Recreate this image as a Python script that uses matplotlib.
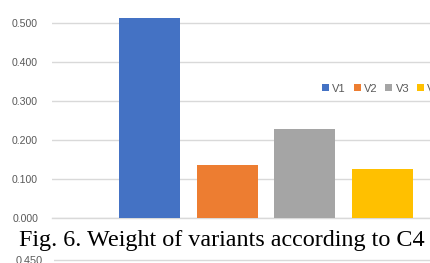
import matplotlib
matplotlib.use("Agg")
import matplotlib.pyplot as plt
from matplotlib.patches import Patch
import numpy as np

# Data
series = ["V1", "V2", "V3", "V4"]
values = [0.514, 0.137, 0.228, 0.126]
colors = ["#4472C4", "#ED7D31", "#A5A5A5", "#FFC000"]
yticks_top = [0.0, 0.1, 0.2, 0.3, 0.4, 0.5]
yticks_bottom = [0.45]
caption = "Fig. 6. Weight of variants according to C4"

W, H = 431, 263
fig = plt.figure(figsize=(W / 100, H / 100), dpi=100)

label_color = "#595959"
grid_color = "#D9D9D9"
tick_font = dict(family="Liberation Sans", size=7.6)

# Top chart
x0 = 52
ax = fig.add_axes([x0 / W, 1 - 218.3 / H, 1 - x0 / W, 218.3 / H])
xpos = np.arange(len(series))
ax.bar(xpos, values, width=0.785, color=colors, zorder=3)
ax.set_xlim(-1.25, -1.25 + (W - x0) / 77.8)
ax.set_ylim(0, 218.3 / 390)
ax.set_yticks(yticks_top)
ax.set_yticklabels([f"{v:.3f}" for v in yticks_top], color=label_color, **tick_font)
ax.set_xticks([])
ax.tick_params(axis="y", length=0, pad=10)
ax.grid(axis="y", color=grid_color, linewidth=1.0, zorder=0)
for s in ["top", "right", "left"]:
    ax.spines[s].set_visible(False)
ax.spines["bottom"].set_color(grid_color)
ax.spines["bottom"].set_linewidth(1.0)

handles = [Patch(facecolor=c, edgecolor="none", label=s) for s, c in zip(series, colors)]
leg = fig.legend(handles=handles, loc="center left",
                 bbox_to_anchor=(322 / W, 1 - 88.5 / H), ncol=4, frameon=False,
                 prop=dict(family="Liberation Sans", size=8),
                 handlelength=0.62, handleheight=0.62, handletextpad=0.3,
                 columnspacing=0.7, borderpad=0, borderaxespad=0)
for t in leg.get_texts():
    t.set_color(label_color)

# Caption
fig.text(222 / W, 1 - 246 / H, caption, family="Liberation Serif", size=17.4,
         ha="center", va="baseline", color="#000000")

# Bottom (next) chart, mostly cut off
x1 = 54
top_px = 250
bottom_px = 526
ax2 = fig.add_axes([x1 / W, 1 - bottom_px / H, 1 - x1 / W, (bottom_px - top_px) / H])
scale = 0.45 / (bottom_px - 260)
ax2.set_ylim(0, 0.45 + (260 - top_px) * scale)
ax2.set_yticks(yticks_bottom)
ax2.set_yticklabels([f"{v:.3f}" for v in yticks_bottom], color=label_color,
                    family="Liberation Sans", size=7.8)
ax2.set_xticks([])
ax2.tick_params(axis="y", length=0, pad=8)
ax2.grid(axis="y", color=grid_color, linewidth=1.0)
for s in ax2.spines.values():
    s.set_visible(False)
ax2.patch.set_alpha(0)

fig.savefig("out.png", dpi=100)
